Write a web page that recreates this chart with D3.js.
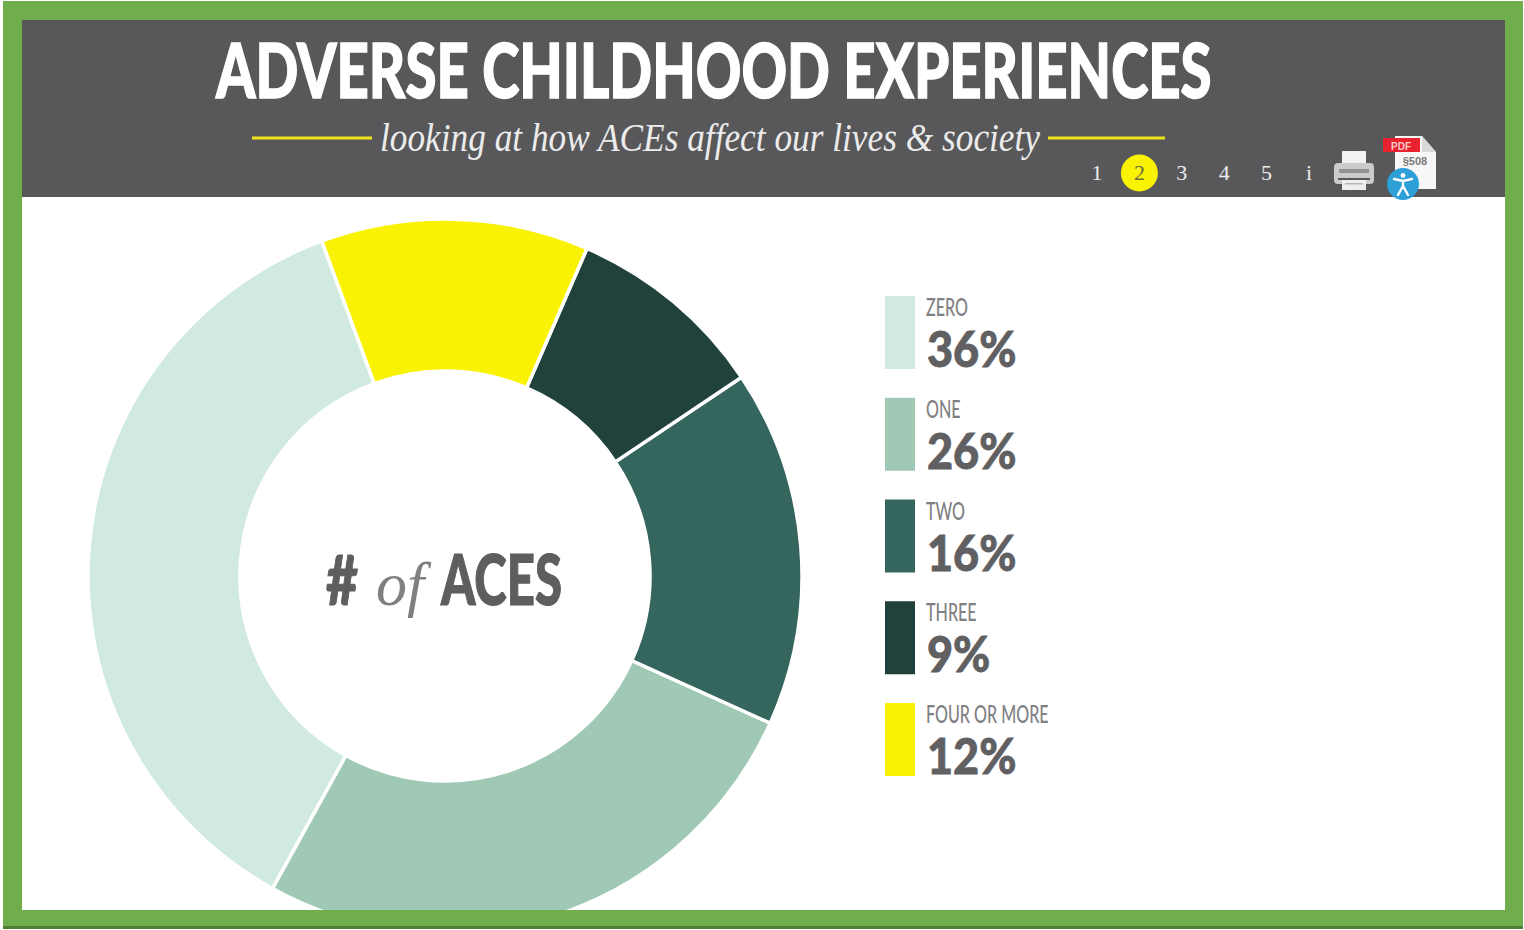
<!DOCTYPE html>
<html>
<head>
<meta charset="utf-8">
<script src="https://cdn.jsdelivr.net/npm/d3@7"></script>
<style>
html,body{margin:0;padding:0;background:#fff;overflow:hidden}
svg{display:block}
</style>
</head>
<body>
<svg id="chart" width="1524" height="930"></svg>
<script>
const titleText = "ADVERSE CHILDHOOD EXPERIENCES";
const subtitleText = "looking at how ACEs affect our lives & society";
const categories = ["ZERO", "ONE", "TWO", "THREE", "FOUR OR MORE"];
const shares = [36, 26, 16, 9, 12];
const sliceColors = ["#d0eadf", "#9fc9b5", "#34665d", "#21423c", "#f9f202"];
const navItems = ["1", "2", "3", "4", "5", "i"];
const activeNav = "2";

const SANS = "Lato,'Liberation Sans',sans-serif";
const SERIF = "'Liberation Serif',serif";
const svg = d3.select("#chart");

// Page frame: green mat, white panel, grey banner
svg.append("rect").attr("x", 0).attr("y", 0).attr("width", 1524).attr("height", 930).attr("fill", "#fff");
svg.append("rect").attr("x", 3).attr("y", 1).attr("width", 1520).attr("height", 928).attr("fill", "#4f7d35");
svg.append("rect").attr("x", 3).attr("y", 1).attr("width", 1520).attr("height", 925).attr("fill", "#70ad4c");
svg.append("rect").attr("x", 22).attr("y", 197).attr("width", 1483).attr("height", 713).attr("fill", "#fff");
svg.append("rect").attr("x", 22).attr("y", 20).attr("width", 1483).attr("height", 177).attr("fill", "#58585a");

// Banner title, condensed to its measured width, and subtitle
const title = svg.append("text").text(titleText)
  .attr("font-family", SANS).attr("font-weight", 900).attr("font-size", 76)
  .attr("fill", "#fff").attr("stroke", "#fff").attr("stroke-width", 1.4);
const titleScale = 996 / title.node().getComputedTextLength();
title.attr("transform", `translate(216,98) scale(${titleScale},1)`);

svg.append("text").text(subtitleText)
  .attr("x", 380).attr("y", 151)
  .attr("textLength", 660).attr("lengthAdjust", "spacingAndGlyphs")
  .attr("font-family", SERIF).attr("font-style", "italic").attr("font-size", 41)
  .attr("fill", "#ececec");

svg.selectAll("line.rule").data([[252, 372], [1048, 1165]]).join("line")
  .attr("class", "rule")
  .attr("x1", d => d[0]).attr("x2", d => d[1])
  .attr("y1", 138).attr("y2", 138)
  .attr("stroke", "#eee21a").attr("stroke-width", 3);

// Page navigation
const navX = d3.scalePoint().domain(navItems).range([1097, 1309]);
svg.append("circle")
  .attr("cx", navX(activeNav)).attr("cy", 173).attr("r", 18.5)
  .attr("fill", "#f9f202");
svg.selectAll("text.nav").data(navItems).join("text")
  .attr("class", "nav")
  .attr("x", d => navX(d)).attr("y", 180)
  .attr("text-anchor", "middle")
  .attr("font-family", SERIF).attr("font-size", 22)
  .attr("fill", d => d === activeNav ? "#6a6a3a" : "#ececec")
  .text(d => d);

// Printer icon
const printer = svg.append("g").attr("transform", "translate(1334,150)");
printer.append("rect").attr("x", 8).attr("y", 1).attr("width", 24).attr("height", 14).attr("rx", 1).attr("fill", "#f2f2f2");
printer.append("rect").attr("x", 0).attr("y", 13).attr("width", 40).attr("height", 21).attr("rx", 4).attr("fill", "#c9cbcd");
printer.append("rect").attr("x", 5).attr("y", 19).attr("width", 30).attr("height", 4).attr("fill", "#8f9193");
printer.append("rect").attr("x", 4).attr("y", 28).attr("width", 32).attr("height", 2).attr("fill", "#55575a");
printer.append("rect").attr("x", 8).attr("y", 30).attr("width", 24).attr("height", 10).attr("fill", "#eeeeee");
printer.append("rect").attr("x", 11).attr("y", 33).attr("width", 18).attr("height", 1.5).attr("fill", "#b5b5b5");

// PDF / accessibility icon
const pdf = svg.append("g").attr("transform", "translate(1382,135)");
pdf.append("path").attr("d", "M13,1 H40 L54,17 V54 H13 Z").attr("fill", "#f7f7f7");
pdf.append("path").attr("d", "M40,1 V17 H54 Z").attr("fill", "#d9d9d9");
pdf.append("rect").attr("x", 1).attr("y", 3).attr("width", 37).attr("height", 14).attr("fill", "#e8232f");
pdf.append("text").text("PDF").attr("x", 19).attr("y", 14.5).attr("text-anchor", "middle")
  .attr("font-family", "'Liberation Sans',sans-serif").attr("font-weight", 700).attr("font-size", 10).attr("fill", "#f7c9c9");
pdf.append("text").text("§508").attr("x", 33).attr("y", 30).attr("text-anchor", "middle")
  .attr("font-family", "'Liberation Sans',sans-serif").attr("font-weight", 700).attr("font-size", 11).attr("fill", "#7a7a7a");
pdf.append("circle").attr("cx", 21).attr("cy", 49).attr("r", 16).attr("fill", "#2f9fd8");
pdf.append("circle").attr("cx", 21).attr("cy", 40.5).attr("r", 2.4).attr("fill", "#fff");
pdf.append("path").attr("d", "M12,44 L21,46 L30,44 M21,46 V51 M21,51 L16,60 M21,51 L26,60")
  .attr("fill", "none").attr("stroke", "#fff").attr("stroke-width", 2.4).attr("stroke-linecap", "round");

// Donut, cut off by the bottom edge of the panel; slices run anticlockwise
svg.append("clipPath").attr("id", "panel")
  .append("rect").attr("x", 22).attr("y", 197).attr("width", 1483).attr("height", 713);

const startDeg = 339.8;
const pie = d3.pie().sort(null).value(d => d.share)
  .startAngle(startDeg * Math.PI / 180)
  .endAngle((startDeg - 360) * Math.PI / 180);
const arc = d3.arc().innerRadius(205).outerRadius(357);
const rows = categories.map((name, i) => ({name, share: shares[i], color: sliceColors[i]}));

svg.append("g")
  .attr("clip-path", "url(#panel)")
  .append("g")
  .attr("transform", "translate(445,576)")
  .selectAll("path").data(pie(rows)).join("path")
  .attr("d", arc)
  .attr("fill", d => d.data.color)
  .attr("stroke", "#fff").attr("stroke-width", 3.5);

// Centre caption
const caption = svg.append("text").attr("y", 605).attr("fill", "#5e5e60");
caption.append("tspan").text("#").attr("x", 326)
  .attr("font-family", SANS).attr("font-weight", 900).attr("font-size", 68)
  .attr("textLength", 32).attr("lengthAdjust", "spacingAndGlyphs")
  .attr("stroke", "#5e5e60").attr("stroke-width", 1);
caption.append("tspan").text("of").attr("x", 376)
  .attr("font-family", SERIF).attr("font-style", "italic").attr("font-size", 62).attr("fill", "#808083");
caption.append("tspan").text("ACES").attr("x", 441)
  .attr("font-family", SANS).attr("font-weight", 900).attr("font-size", 70)
  .attr("textLength", 121).attr("lengthAdjust", "spacingAndGlyphs")
  .attr("stroke", "#5e5e60").attr("stroke-width", 1.2);

// Legend: swatch, category name, share; type is condensed horizontally
const legendY = d3.scalePoint().domain(categories).range([296, 703]);
const legend = svg.selectAll("g.legend").data(rows).join("g")
  .attr("class", "legend")
  .attr("transform", d => `translate(885,${legendY(d.name)})`);
legend.append("rect")
  .attr("width", 30).attr("height", 73)
  .attr("fill", d => d.color);
legend.append("text")
  .attr("transform", "translate(41,20) scale(0.645,1)")
  .attr("font-family", SANS).attr("font-weight", 500).attr("font-size", 25)
  .attr("fill", "#808083")
  .text(d => d.name);
legend.append("text")
  .attr("transform", "translate(42,71) scale(0.9,1)")
  .attr("font-family", SANS).attr("font-weight", 900).attr("font-size", 50)
  .attr("fill", "#606063").attr("stroke", "#606063").attr("stroke-width", 0.8)
  .text(d => `${d.share}%`);
</script>
</body>
</html>
